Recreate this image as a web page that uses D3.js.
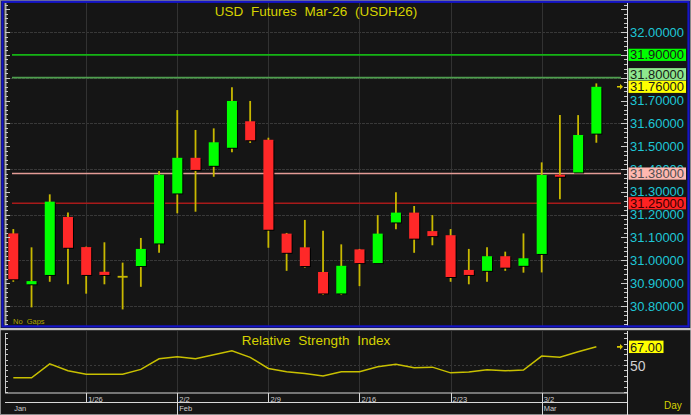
<!DOCTYPE html>
<html><head><meta charset="utf-8">
<script src="https://cdn.jsdelivr.net/npm/d3@7"></script>
<style>html,body{margin:0;padding:0;background:#151515;}svg{display:block;}</style>
</head><body>
<script>
// ---------- data ----------
const dates = ["1/20","1/21","1/22","1/23","1/26","1/27","1/28","1/29","1/30","2/2","2/3","2/4","2/5","2/6","2/9","2/10","2/11","2/12","2/13","2/16","2/17","2/18","2/19","2/20","2/23","2/24","2/25","2/26","2/27","3/2","3/3","3/4","3/5"];
const opens  = [31.118,30.895,30.936,31.190,31.058,30.950,30.928,30.975,31.074,31.293,31.449,31.414,31.493,31.609,31.528,31.117,31.057,30.949,30.855,31.048,30.988,31.166,31.209,31.128,31.110,30.958,30.954,31.018,30.976,31.028,31.375,31.385,31.555];
const highs  = [31.137,31.057,31.289,31.210,31.060,31.079,30.990,31.098,31.391,31.658,31.571,31.578,31.758,31.698,31.537,31.120,31.177,31.130,31.070,31.050,31.198,31.298,31.238,31.198,31.137,31.050,31.057,31.038,31.118,31.429,31.636,31.636,31.775];
const lows   = [30.906,30.794,30.906,30.895,30.854,30.895,30.785,30.884,31.033,31.206,31.213,31.366,31.473,31.514,31.055,30.954,30.968,30.848,30.848,30.887,30.986,31.136,31.033,31.066,30.906,30.895,30.906,30.954,30.946,30.947,31.267,31.385,31.515];
const closes = [30.917,30.909,31.257,31.055,30.936,30.936,30.928,31.050,31.375,31.449,31.396,31.517,31.698,31.526,31.134,31.033,30.975,30.855,30.976,30.988,31.117,31.209,31.095,31.106,30.927,30.936,31.018,30.968,31.009,31.374,31.366,31.549,31.760];
const rsi    = [38.2,38.2,51.2,44.7,41.6,41.6,41.6,46.0,55.9,57.7,55.9,59.6,63.3,57.2,46.9,43.8,42.3,39.8,43.8,43.8,48.4,50.9,47.5,48.1,42.8,43.5,45.6,44.7,45.4,58.4,57.4,62.4,67.0];
const priceTicks = [30.8,30.9,31.0,31.1,31.2,31.3,31.4,31.5,31.6,31.7,31.8,31.9,32.0];
const levelValues = [31.90, 31.80, 31.38, 31.25];
const weekLabels = ["1/26","2/2","2/9","2/16","2/23","3/2"];
const monthStarts = ["2/2","3/2"];
const monthNames = ["Jan","Feb","Mar"];
const rsiTicks = [50];
const title = "USD Futures Mar-26 (USDH26)";
const rsiTitle = "Relative Strength Index";

// ---------- styles ----------
const levelStyle = {
  31.90: {line:"#14b414", bg:"#00ff00", fg:"#1a1a1a"},
  31.80: {line:"#4e9e4e", bg:"#8ee88e", fg:"#1a1a1a"},
  31.38: {line:"#e49c96", bg:"#ffb8b0", fg:"#505050"},
  31.25: {line:"#a81a1a", bg:"#ff2222", fg:"#3a0000"}
};
const FONT = "'Liberation Sans', Arial, sans-serif";
const W = 691, H = 415;

const svg = d3.select("body").append("svg").attr("width", W).attr("height", H);
svg.append("rect").attr("width", W).attr("height", H).attr("fill", "#151515");

// ---------- scales ----------
const x = d3.scaleBand().domain(dates).range([4.2, 4.2 + 18.22 * dates.length]).padding(0);
const cx = d => x(d) + x.bandwidth() / 2;
const y = d3.scaleLinear().domain([30.8, 32.0]).range([306, 32]);
const yR = d3.scaleLinear().domain([25, 82]).range([392, 330.7]);

const plotL = 6, plotR = 627;
const upTop = 3, upBot = 326;
const loTop = 331, loBot = 392.5;

// ---------- upper panel grid ----------
const g = svg.append("g");
const gridY = d3.range(30.8, 32.01, 0.2);
g.selectAll(".hg").data(gridY).join("line")
  .attr("x1", plotL).attr("x2", plotR).attr("y1", d => Math.round(y(d)) + 0.5).attr("y2", d => Math.round(y(d)) + 0.5)
  .attr("stroke", "#383838").attr("stroke-dasharray", "3,1");
g.selectAll(".vg").data(weekLabels).join("line")
  .attr("x1", d => Math.round(cx(d)) + 0.5).attr("x2", d => Math.round(cx(d)) + 0.5)
  .attr("y1", upTop).attr("y2", upBot).attr("stroke", "#323232");

// level lines
g.selectAll(".lvl").data(levelValues).join("line")
  .attr("x1", 12).attr("x2", 621).attr("y1", d => y(d)).attr("y2", d => y(d))
  .attr("stroke", d => levelStyle[d].line).attr("stroke-width", 1.6);

// ---------- candles ----------
const idx = d3.range(dates.length);
const bw = 10;
const cg = svg.append("g");
cg.selectAll(".wick").data(idx).join("line")
  .attr("x1", i => cx(dates[i])).attr("x2", i => cx(dates[i]))
  .attr("y1", i => y(highs[i])).attr("y2", i => y(lows[i]))
  .attr("stroke", "#c8b800").attr("stroke-width", 1.8);
const bodies = idx.filter(i => Math.abs(opens[i] - closes[i]) > 0.001);
cg.selectAll(".shadow").data(bodies).join("rect")
  .attr("x", i => cx(dates[i]) - bw / 2 + 1)
  .attr("y", i => y(Math.max(opens[i], closes[i])) + 1)
  .attr("width", bw)
  .attr("height", i => Math.max(2, y(Math.min(opens[i], closes[i])) - y(Math.max(opens[i], closes[i]))))
  .attr("fill", "#000");
cg.selectAll(".body").data(bodies).join("rect")
  .attr("x", i => cx(dates[i]) - bw / 2)
  .attr("y", i => y(Math.max(opens[i], closes[i])))
  .attr("width", bw)
  .attr("height", i => Math.max(2, y(Math.min(opens[i], closes[i])) - y(Math.max(opens[i], closes[i]))))
  .attr("fill", i => closes[i] >= opens[i] ? "#00ff00" : "#ff2828");
cg.selectAll(".doji").data(idx.filter(i => Math.abs(opens[i] - closes[i]) <= 0.001)).join("line")
  .attr("x1", i => cx(dates[i]) - bw / 2).attr("x2", i => cx(dates[i]) + bw / 2)
  .attr("y1", i => y(closes[i])).attr("y2", i => y(closes[i]))
  .attr("stroke", "#c8b800").attr("stroke-width", 1.8);

// ---------- upper axes ----------
const minorTicks = d3.range(30.70, 32.121, 0.02).map(v => +v.toFixed(2));
const ax = svg.append("g");
ax.append("line").attr("x1", 5.5).attr("x2", 5.5).attr("y1", upTop).attr("y2", upBot).attr("stroke", "#a8a8a8").attr("stroke-width", 2);
ax.selectAll(".lt").data(minorTicks).join("line")
  .attr("x1", 5).attr("x2", d => Math.abs(d * 10 - Math.round(d * 10)) < 0.01 ? 10 : 8)
  .attr("y1", d => Math.round(y(d)) + 0.5).attr("y2", d => Math.round(y(d)) + 0.5).attr("stroke", "#c8c8c8");
ax.append("line").attr("x1", 627.5).attr("x2", 627.5).attr("y1", upTop).attr("y2", upBot).attr("stroke", "#e0e0e0");
ax.selectAll(".rt").data(minorTicks).join("line")
  .attr("x2", 627).attr("x1", d => Math.abs(d * 10 - Math.round(d * 10)) < 0.01 ? 621 : 624)
  .attr("y1", d => Math.round(y(d)) + 0.5).attr("y2", d => Math.round(y(d)) + 0.5).attr("stroke", "#c8c8c8");

// highlighted boxes (positions de-collided)
const lastPrice = closes[closes.length - 1];
const bh = 12.2;
const boxes = levelValues.map(v => ({v, bg: levelStyle[v].bg, fg: levelStyle[v].fg}))
  .concat([{v: lastPrice, bg: "#ffff00", fg: "#1a1a1a"}])
  .map(b => Object.assign(b, {cy: y(b.v)}))
  .sort((a, b) => b.cy - a.cy);
for (let k = 1; k < boxes.length; k++) {
  if (boxes[k - 1].cy - boxes[k].cy < bh + 0.4) boxes[k].cy = boxes[k - 1].cy - bh - 0.4;
}

// regular price labels (skip those fully hidden by a box)
const visibleTicks = priceTicks.filter(v => !boxes.some(b => Math.abs(b.cy - y(v)) < 4));
ax.selectAll(".pl").data(visibleTicks).join("text")
  .attr("x", 630).attr("y", d => y(d) + 4.5)
  .attr("font-family", FONT).attr("font-size", 12.5).attr("fill", "#1ec6d6")
  .attr("textLength", 54).attr("lengthAdjust", "spacingAndGlyphs")
  .text(d => d.toFixed(5));

const bg = svg.append("g");
bg.selectAll("rect").data(boxes).join("rect")
  .attr("x", 628.5).attr("y", b => b.cy - bh / 2).attr("width", 57.5).attr("height", bh).attr("fill", b => b.bg);
bg.selectAll("text").data(boxes).join("text")
  .attr("x", 630).attr("y", b => b.cy + 4.5)
  .attr("font-family", FONT).attr("font-size", 12.5).attr("fill", b => b.fg)
  .attr("textLength", 54).attr("lengthAdjust", "spacingAndGlyphs")
  .text(b => b.v.toFixed(5));

// arrow marker
function arrow(yy) {
  svg.append("path").attr("d", `M617,${yy - 0.8}h3v-2l3,2.8l-3,2.8v-2h-3z`).attr("fill", "#d8c800");
}
arrow(y(lastPrice));

// title + no gaps
svg.append("text").attr("x", 316).attr("y", 16).attr("text-anchor", "middle")
  .attr("font-family", FONT).attr("font-size", 13.5).attr("word-spacing", 4).attr("fill", "#d6d200").text(title);
svg.append("text").attr("x", 13).attr("y", 324).attr("font-family", FONT).attr("font-size", 7.5)
  .attr("fill", "#b0a400").attr("word-spacing", 2).text("No Gaps");

// frames
svg.append("rect").attr("x", 0.5).attr("y", 0.5).attr("width", W - 1).attr("height", H - 1).attr("fill", "none").attr("stroke", "#8a8a8a");
svg.append("rect").attr("x", 2.5).attr("y", 1.8).attr("width", 686).attr("height", 324.6).attr("fill", "none").attr("stroke", "#1414c8").attr("stroke-width", 2.2);
svg.append("rect").attr("x", 0).attr("y", 328).attr("width", W).attr("height", 2.2).attr("fill", "#c4c4c4");

// ---------- RSI panel ----------
const rg = svg.append("g");
rg.selectAll(".rg").data(rsiTicks).join("line")
  .attr("x1", plotL).attr("x2", plotR).attr("y1", d => Math.round(yR(d)) + 0.5).attr("y2", d => Math.round(yR(d)) + 0.5)
  .attr("stroke", "#3a3a3a").attr("stroke-dasharray", "2,2");
rg.selectAll(".rvg").data(weekLabels).join("line")
  .attr("x1", d => Math.round(cx(d)) + 0.5).attr("x2", d => Math.round(cx(d)) + 0.5)
  .attr("y1", loTop).attr("y2", loBot).attr("stroke", "#323232");
const rTicks = d3.range(25, 81, 5);
rg.append("line").attr("x1", 5.5).attr("x2", 5.5).attr("y1", loTop + 2).attr("y2", loBot).attr("stroke", "#c8c8c8");
rg.selectAll(".rlt").data(rTicks).join("line")
  .attr("x1", 5).attr("x2", 8).attr("y1", d => Math.round(yR(d)) + 0.5).attr("y2", d => Math.round(yR(d)) + 0.5).attr("stroke", "#c8c8c8");
rg.append("line").attr("x1", 627.5).attr("x2", 627.5).attr("y1", loTop).attr("y2", H).attr("stroke", "#e0e0e0");
rg.selectAll(".rrt").data(rTicks).join("line")
  .attr("x1", 624).attr("x2", 627).attr("y1", d => Math.round(yR(d)) + 0.5).attr("y2", d => Math.round(yR(d)) + 0.5).attr("stroke", "#c8c8c8");

rg.append("path").datum(idx)
  .attr("d", d3.line().x(i => cx(dates[i])).y(i => yR(rsi[i])))
  .attr("fill", "none").attr("stroke", "#c8c000").attr("stroke-width", 1.5);

svg.append("text").attr("x", 316).attr("y", 345).attr("text-anchor", "middle")
  .attr("font-family", FONT).attr("font-size", 13.5).attr("word-spacing", 4).attr("fill", "#d6d200").text(rsiTitle);

rg.selectAll(".rl").data(rsiTicks).join("text")
  .attr("x", 630).attr("y", d => yR(d) + 5.5)
  .attr("font-family", FONT).attr("font-size", 14).attr("fill", "#d0d0d0").text(d => d);
const lastRsi = rsi[rsi.length - 1];
rg.append("rect").attr("x", 629).attr("y", yR(lastRsi) - 6.2).attr("width", 34.5).attr("height", 12.4).attr("fill", "#ffff00");
rg.append("text").attr("x", 630).attr("y", yR(lastRsi) + 4.8)
  .attr("font-family", FONT).attr("font-size", 13).attr("fill", "#1a1a1a")
  .attr("textLength", 32).attr("lengthAdjust", "spacingAndGlyphs").text(lastRsi.toFixed(2));
arrow(yR(lastRsi));

// ---------- date axis ----------
const da = svg.append("g");
da.append("line").attr("x1", 5).attr("x2", 627).attr("y1", 393).attr("y2", 393).attr("stroke", "#d8d8d8");
da.append("line").attr("x1", 5).attr("x2", 627).attr("y1", 402.5).attr("y2", 402.5).attr("stroke", "#d8d8d8");
da.selectAll(".wt").data(weekLabels).join("line")
  .attr("x1", d => Math.round(cx(d)) + 0.5).attr("x2", d => Math.round(cx(d)) + 0.5)
  .attr("y1", 393).attr("y2", d => monthStarts.includes(d) ? H : 402.5).attr("stroke", "#d8d8d8");
da.selectAll(".wl").data(weekLabels).join("text")
  .attr("x", d => cx(d) + 2).attr("y", 401.5)
  .attr("font-family", FONT).attr("font-size", 7.5).attr("fill", "#cfcfcf").text(d => d);
const monthX = [x(dates[0]) + 10].concat(monthStarts.map(d => cx(d) + 2));
da.selectAll(".ml").data(monthNames).join("text")
  .attr("x", (d, i) => monthX[i]).attr("y", 411)
  .attr("font-family", FONT).attr("font-size", 7.5).attr("fill", "#cfcfcf").text(d => d);
svg.append("text").attr("x", 664).attr("y", 409).attr("font-family", FONT).attr("font-size", 10)
  .attr("fill", "#d6d200").text("Day");
</script>
</body></html>
